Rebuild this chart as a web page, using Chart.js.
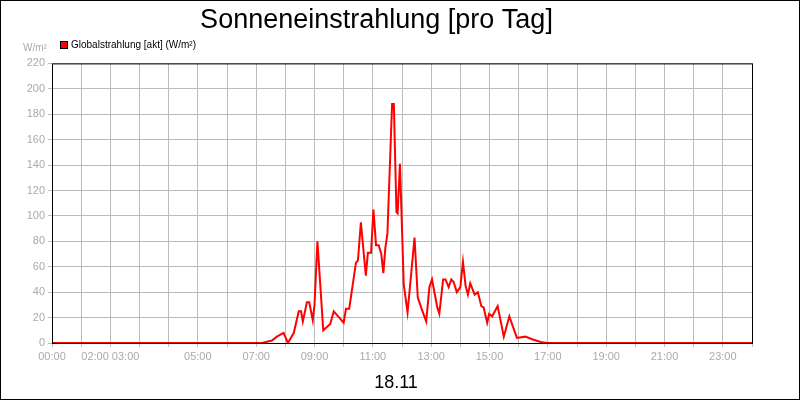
<!DOCTYPE html>
<html>
<head>
<meta charset="utf-8">
<script src="https://cdn.jsdelivr.net/npm/chart.js@4"></script>
<style>
  body { margin: 0; background: #fff; }
  #wrap { width: 800px; height: 400px; position: relative; box-sizing: border-box; border: 1px solid #000; }
</style>
</head>
<body>
<div id="wrap"><canvas id="c"></canvas></div>
<script>
// hours of day (decimal) and radiation in W/m²
const hours = [0, 7.2, 7.54, 7.71, 7.94, 8.09, 8.29, 8.46, 8.54, 8.6, 8.74, 8.82, 8.94, 9.0, 9.1, 9.3, 9.54, 9.66, 10.0, 10.08, 10.19, 10.42, 10.49, 10.59, 10.76, 10.83, 10.94, 11.02, 11.11, 11.2, 11.29, 11.36, 11.43, 11.5, 11.66, 11.72, 11.81, 11.85, 11.93, 12.06, 12.19, 12.43, 12.54, 12.67, 12.83, 12.94, 13.03, 13.21, 13.28, 13.41, 13.49, 13.6, 13.69, 13.77, 13.88, 14.0, 14.09, 14.18, 14.26, 14.34, 14.49, 14.6, 14.72, 14.8, 14.92, 14.99, 15.09, 15.28, 15.49, 15.68, 15.94, 16.23, 16.46, 16.8, 17.0, 24];
const radiation = [0, 0, 2, 5, 8, 0, 8, 25, 25, 17, 32, 32, 18, 30, 80, 10, 15, 25, 16, 27, 27, 63, 65, 95, 53, 71, 71, 105, 77, 77, 70, 55, 75, 86, 188, 188, 103, 102, 141, 46, 24, 83, 36, 27, 17, 44, 50, 28, 23, 50, 50, 44, 50, 48, 40, 44, 64, 45, 38, 47, 38, 40, 29, 28, 16, 23, 21, 29, 5, 21, 4, 5, 3, 0.5, 0, 0];
const tickLabels = {0: "00:00", 2: "02:00 03:00", 5: "05:00", 7: "07:00", 9: "09:00", 11: "11:00", 13: "13:00", 15: "15:00", 17: "17:00", 19: "19:00", 21: "21:00", 23: "23:00"};
const seriesName = "Globalstrahlung [akt] (W/m²)";
const dateLabel = "18.11";

const extraText = {
    id: "extraText",
    afterDraw(chart) {
        const ctx = chart.ctx;
        const area = chart.chartArea;
        ctx.save();
        ctx.strokeStyle = "#000";
        ctx.lineWidth = 1;
        ctx.strokeRect(area.left + 0.5, area.top + 0.5, area.right - area.left, area.bottom - area.top);
        // legend
        ctx.fillStyle = "#ff0000";
        ctx.fillRect(59.5, 40.5, 7, 7);
        ctx.strokeRect(59.5, 40.5, 7, 7);
        ctx.fillStyle = "#000";
        ctx.font = "10px 'Liberation Sans'";
        ctx.textAlign = "left";
        ctx.textBaseline = "middle";
        ctx.fillText(seriesName, 70, 44);
        ctx.fillStyle = "#aaa";
        ctx.fillText("W/m²", 22, 47);
        ctx.fillStyle = "#000";
        ctx.font = "18px 'Liberation Sans'";
        ctx.textAlign = "center";
        ctx.textBaseline = "alphabetic";
        ctx.fillText(dateLabel, 395, 387);
        ctx.restore();
    }
};

new Chart(document.getElementById("c"), {
    type: "scatter",
    data: {
        datasets: [{
            label: seriesName,
            data: hours.map((h, i) => ({ x: h, y: radiation[i] })),
            showLine: true,
            borderColor: "#ff0000",
            backgroundColor: "#ff0000",
            borderWidth: 2,
            pointRadius: 0,
            tension: 0
        }]
    },
    options: {
        responsive: true,
        maintainAspectRatio: false,
        animation: false,
        layout: { padding: { top: 0, right: 47, bottom: 36, left: 0 } },
        plugins: {
            title: {
                display: true,
                text: "Sonneneinstrahlung [pro Tag]",
                color: "#000",
                font: { family: "Liberation Sans", size: 27, weight: "normal" },
                padding: { top: 3, bottom: 27 }
            },
            legend: { display: false },
            tooltip: { enabled: false }
        },
        scales: {
            x: {
                type: "linear", min: 0, max: 24,
                afterFit: (s) => { s.height = 20; },
                grid: { color: "#bbb", drawTicks: true, tickLength: 4 },
                border: { display: false },
                ticks: {
                    stepSize: 1, autoSkip: false, maxRotation: 0, color: "#aaa",
                    font: { family: "Liberation Sans", size: 11 },
                    callback: (v) => tickLabels[v] || ""
                }
            },
            y: {
                min: 0, max: 220,
                afterFit: (s) => { s.width = 51; },
                grid: { color: "#bbb", tickLength: 4 },
                border: { display: false },
                ticks: { stepSize: 20, color: "#aaa", font: { family: "Liberation Sans", size: 11 } }
            }
        }
    },
    plugins: [extraText]
});
</script>
</body>
</html>
